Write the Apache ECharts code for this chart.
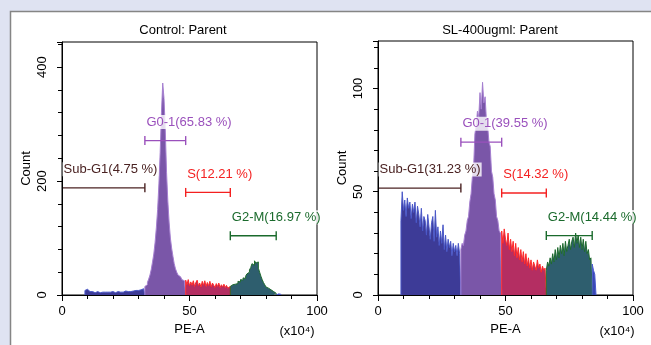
<!DOCTYPE html>
<html><head><meta charset="utf-8">
<script src="https://cdn.jsdelivr.net/npm/echarts@6/dist/echarts.min.js"></script>
<style>html,body{margin:0;padding:0;background:#dfe3f2;}#c{width:651px;height:345px;}</style>
</head><body><div id="c"></div>
<script>
// histogram channels: first bin start and bin width (PE-A, x10^4)
const binStart = 9;
const binWidth = 0.5;

// Control: Parent counts per bin (from 9.0 upward, step 0.5)
const ctrlCounts = [
  8,10,7,6,5,6,5,4,5,6, 5,4,5,5,4,5,6,5,4,5, 5,6,5,4,5,6,5,5,6,5, 6,7,6,6,7,6,8,7,7,8, 9,8,10,9,12,11,13,
  15,18,22,28,35,45,58,72,92,118, 150,195,250,320,372,345,290,215,165,128, 100,82,68,55,46,40,35,32,30,27, 25,22,
  26,18,27,16,23,17,25,15,22,26, 16,21,14,24,17,25,15,22,16,24, 14,21,17,13,20,15,21,13,18,14, 19,13,17,12,15,
  15,18,16,19,21,20,24,23,27,26, 30,29,33,37,40,44,48,55,52,60, 56,58,47,40,33,27,22,18,14,12, 10,9,7,6,4,3,
  3,2,2,1
];

// SL-400ugml: Parent counts per bin (from 9.0 upward, step 0.5)
const slCounts = [
  36,50,41,46,38,47,42,45,37,44, 40,45,35,43,39,33,42,31,38,36, 29,39,33,27,35,38,26,41,28,33, 24,31,25,34,22,29,21,27,23,26, 19,25,21,24,19,25,20,
  22,25,24,29,31,36,38,45,49,57, 62,78,82,89,86,98,90,103,93,96, 85,82,74,72,60,57,49,46,38,36, 31,30,
  31,25,32,27,24,30,22,27,21,26, 19,25,18,23,17,22,16,21,15,20, 14,18,13,17,12,16,14,12,17,13, 15,11,14,12,13,
  12,16,14,18,15,20,16,22,17,23, 18,24,20,25,19,26,21,24,27,22, 26,28,23,30,25,29,23,28,22,27, 21,26,20,22,17,18,
  15,12,10
];

const gateNames = ['Sub-G1', 'G0-1', 'S', 'G2-M'];
const gateFrom = [0, 32.5, 48.5, 66];
const gateTo = [32.5, 48.5, 66, 84];
const ctrlGatePct = ['4.75', '65.83', '12.21', '16.97'];
const slGatePct = ['31.23', '39.55', '14.32', '14.44'];
const ctrlGateLevel = [188, 271, 180, 104];
const slGateLevel = [51.8, 74, 49.4, 28.8];

const panelTitles = ['Control: Parent', 'SL-400ugml: Parent'];
const ctrlYMax = 444, slYMax = 123;
const ctrlYStep = 200, slYStep = 50;
const xTickLabels = [0, 50, 100];

const FONT = '"Liberation Sans", Arial, sans-serif';
const fills = ['#3d3b97', '#7a56a8', '#b42e62', '#2e5e6e', '#3a48b4'];
const outlines = ['#4a58c8', '#a57fd0', '#ff2828', '#1e6a2e', '#4a5ad0'];
const gateColors = ['#4a2222', '#9a50bc', '#f42020', '#1a6a2c'];

function regionOf(x) {
  for (let g = 0; g < gateTo.length; g++) if (x < gateTo[g] - 1e-9) return g;
  return gateTo.length;
}

const panels = [
  {counts: ctrlCounts, pct: ctrlGatePct, lvl: ctrlGateLevel, ymax: ctrlYMax, ystep: ctrlYStep,
   grid: {left: 62, top: 42, width: 255, height: 253}},
  {counts: slCounts, pct: slGatePct, lvl: slGateLevel, ymax: slYMax, ystep: slYStep,
   grid: {left: 378, top: 41, width: 255, height: 254}}
];

const grids = [], xAxes = [], yAxes = [], series = [];
panels.forEach((p, i) => {
  grids.push(Object.assign({show: true, borderColor: '#000', borderWidth: 1, backgroundColor: 'transparent'}, p.grid));
  xAxes.push({
    type: 'value', gridIndex: i, min: 0, max: 100, interval: 50, z: 5,
    axisLine: {show: true, lineStyle: {color: '#000', width: 1}},
    axisTick: {show: true, length: 6, lineStyle: {color: '#000'}},
    minorTick: {show: true, splitNumber: 5, length: 4, lineStyle: {color: '#000'}},
    splitLine: {show: false},
    axisLabel: {margin: 10, fontSize: 13, color: '#000', fontFamily: FONT,
      formatter: v => (xTickLabels.indexOf(v) >= 0 ? String(v) : '')},
    name: 'PE-A', nameLocation: 'middle', nameGap: 27,
    nameTextStyle: {fontSize: 13, color: '#000', fontFamily: FONT}
  });
  yAxes.push({
    type: 'value', gridIndex: i, min: 0, max: p.ymax, interval: p.ystep, z: 5,
    axisLine: {show: true, lineStyle: {color: '#000', width: 1}},
    axisTick: {show: true, length: 5, lineStyle: {color: '#000'}},
    minorTick: {show: true, splitNumber: 5, length: 4, lineStyle: {color: '#000'}},
    splitLine: {show: false},
    axisLabel: {rotate: 90, margin: 13, fontSize: 13, color: '#000', fontFamily: FONT, showMaxLabel: false,
      formatter: v => (v % p.ystep === 0 ? String(v) : '')},
    name: 'Count', nameLocation: 'middle', nameRotate: 90, nameGap: 29,
    nameTextStyle: {fontSize: 13, color: '#000', fontFamily: FONT}
  });

  // split histogram bins into gate-coloured regions
  const groups = [[], [], [], [], []];
  p.counts.forEach((c, k) => {
    const x = binStart + k * binWidth;
    groups[regionOf(x)].push([x, c]);
  });
  groups.forEach((pts, r) => {
    if (!pts.length) return;
    const data = [[pts[0][0], 0]].concat(pts, [[pts[pts.length - 1][0] + binWidth, 0]]);
    series.push({
      type: 'line', xAxisIndex: i, yAxisIndex: i, step: 'end', symbol: 'none', z: 2,
      data: data, lineStyle: {color: outlines[r], width: 1},
      areaStyle: {color: fills[r], opacity: 1}, silent: true
    });
  });

  // gate markers and labels
  gateNames.forEach((name, g) => {
    const y = p.lvl[g];
    series.push({
      type: 'line', xAxisIndex: i, yAxisIndex: i, z: 4, symbol: 'rect', symbolSize: [1.4, 9],
      data: [{value: [gateFrom[g], y], symbolSize: g === 0 ? 0 : [1.4, 9]}, [gateTo[g], y]],
      lineStyle: {color: gateColors[g], width: 1.3}, itemStyle: {color: gateColors[g]}, silent: true
    });
    series.push({
      type: 'scatter', xAxisIndex: i, yAxisIndex: i, z: 6, symbolSize: 1,
      itemStyle: {color: 'rgba(0,0,0,0)', opacity: 1},
      data: [[gateFrom[g], y]],
      label: {show: true, formatter: name + '(' + p.pct[g] + ' %)', position: [1, -18], opacity: 1,
        align: 'left', verticalAlign: 'middle', color: gateColors[g], fontSize: 13, fontFamily: FONT,
        backgroundColor: 'rgba(255,255,255,0.8)', padding: [1, 1, 0, 1]}, silent: true
    });
  });
});

const chart = echarts.init(document.getElementById('c'));
chart.setOption({
  animation: false,
  backgroundColor: '#dfe3f2',
  graphic: [
    {type: 'rect', z: -10, shape: {x: 10.5, y: 11.5, width: 700, height: 400},
     style: {fill: '#ffffff', stroke: '#858585', lineWidth: 1.5}},
    {type: 'text', x: 183, y: 30, style: {text: panelTitles[0], textAlign: 'center', textVerticalAlign: 'middle', align: 'center', verticalAlign: 'middle', font: '13px ' + FONT, fill: '#000'}},
    {type: 'text', x: 500, y: 30, style: {text: panelTitles[1], textAlign: 'center', textVerticalAlign: 'middle', align: 'center', verticalAlign: 'middle', font: '13px ' + FONT, fill: '#000'}},
    {type: 'text', x: 297, y: 331, style: {text: '(x10\u2074)', textAlign: 'center', textVerticalAlign: 'middle', align: 'center', verticalAlign: 'middle', font: '13px ' + FONT, fill: '#000'}},
    {type: 'text', x: 617, y: 331, style: {text: '(x10\u2074)', textAlign: 'center', textVerticalAlign: 'middle', align: 'center', verticalAlign: 'middle', font: '13px ' + FONT, fill: '#000'}}
  ],
  grid: grids, xAxis: xAxes, yAxis: yAxes, series: series
});
</script></body></html>
